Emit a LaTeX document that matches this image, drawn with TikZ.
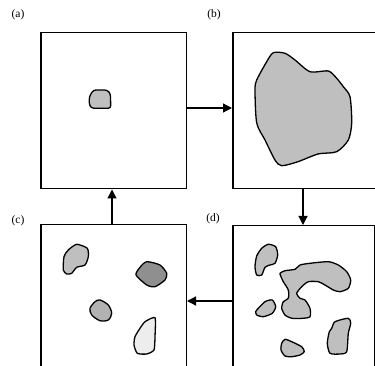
\documentclass[tikz,border=0pt]{standalone}
\usepackage{fontspec}
\setmainfont{Liberation Serif}
\usetikzlibrary{arrows.meta}
\definecolor{blobA}{gray}{0.75}
\definecolor{blobDark}{gray}{0.56}
\definecolor{blobMid}{gray}{0.70}
\definecolor{blobLight}{gray}{0.93}
\tikzset{
  panel/.style={draw, line width=1.5pt, rectangle, inner sep=0pt, anchor=north west},
  flow/.style={line width=1.2pt, -{Triangle[length=9pt,width=9pt]}},
  blob/.style={draw, line width=1.3pt, fill=blobA, line join=round},
  lab/.style={font=\fontsize{11.5}{13}\selectfont, inner sep=0pt}
}
\begin{document}
\begin{tikzpicture}[x=1pt,y=-1pt]
\useasboundingbox (0,0) rectangle (375,366);
\clip (0,0) rectangle (375,366);
% panels
\node[panel, minimum width=145.5pt, minimum height=156pt] (A) at (40,32) {};
\node[panel, minimum width=150pt, minimum height=156pt] (B) at (232,32) {};
\node[panel, minimum width=145.5pt, minimum height=145pt] (C) at (40,224) {};
\node[panel, minimum width=142pt, minimum height=145pt] (D) at (232,225) {};
% labels
\node[lab] (la) at (18,15) {(a)};
\node[lab] (lb) at (214,15) {(b)};
\node[lab] (lc) at (18,221) {(c)};
\node[lab] (ld) at (213,219) {(d)};
% connectors
\coordinate (ab1) at (A.east |- 0,108);
\coordinate (ab2) at (B.west |- 0,108);
\draw[flow] (ab1) -- (ab2);
\coordinate (bd1) at (B.south -| 303,0);
\coordinate (bd2) at (D.north -| 303,0);
\draw[flow] (bd1) -- (bd2);
\coordinate (dc1) at (D.west |- 0,301);
\coordinate (dc2) at (C.east |- 0,301);
\draw[flow] (dc1) -- (dc2);
\coordinate (ca1) at (C.north -| 112,0);
\coordinate (ca2) at (A.south -| 112,0);
\draw[flow] (ca1) -- (ca2);
% (a) seed
\draw[blob, rounded corners=2.5pt] (93.3,90) -- (107.3,90) -- (110.5,94) -- (110.7,108.3) -- (91.7,108.3) -- (89.3,105) -- (89.3,96.7) -- cycle;
% (b) large region
\draw[blob] plot[smooth cycle, tension=0.45] coordinates {
(273.3,52.7) (266.7,61.7) (256.7,80) (255,90) (256.7,123) (265,140) (275,160) (281.7,165.7)
(298,161.7) (318,154) (336.7,151.7) (348.3,140) (351.7,123) (350,96.7) (343.3,86.7)
(336.7,78.3) (328.3,71) (310,71.7) (295,60) (285,53.3)};
% (c) regions
\draw[blob] plot[smooth cycle, tension=0.4] coordinates {
(76.7,244.3) (87.3,248.3) (88.3,256.7) (85,265) (76.7,267.3) (71.7,273.3) (66.7,274) (63.3,270) (64,256.7) (68.3,250)};
\draw[blob, fill=blobDark] plot[smooth cycle, tension=0.4] coordinates {
(146.7,261.7) (160,265) (166.7,273.3) (165,280) (155,286.7) (146.7,285) (136,275) (140,267.3)};
\draw[blob, fill=blobMid] plot[smooth cycle, tension=0.5] coordinates {
(100,300) (108.3,305) (111.7,313.3) (108.3,320) (100,320.7) (91.7,315) (90,308.3) (95,301.7)};
\draw[blob, fill=blobLight] plot[smooth cycle, tension=0.35] coordinates {
(155,317.7) (155,336.7) (154,350) (146.7,354) (137.3,353.3) (134,345) (135,336.7) (140,328.3) (145,321.7)};
% (d) regions
\draw[blob] plot[smooth cycle, tension=0.4] coordinates {
(268.3,244.3) (275.7,246.7) (277.7,255) (275,263.3) (270,265) (265,267.3) (261.7,275) (256.7,275) (255,266.7) (256.7,256) (261.7,248.3)};
\draw[blob] plot[smooth cycle, tension=0.4] coordinates {
(280,273.3) (285,270.7) (295,269.3) (300,265) (310,263.3) (328.3,261.7) (338.3,265) (346.7,271.7)
(350.7,280) (348.3,288.3) (340,291.7) (333.3,290) (325,285) (318.3,281.7) (308.3,281.7)
(301.7,286.7) (296.7,293.3) (300,298.3) (305,300) (310,308.3) (310,316.7) (303.3,318.3)
(291.7,318.3) (285,315) (281.7,308.3) (283.3,301.7) (288.3,298.3) (288.3,290) (283.3,281.7) (281,276.7)};
\draw[blob] plot[smooth cycle, tension=0.4] coordinates {
(256.7,310) (265,301.7) (272.3,300) (275.7,306.7) (272.3,313.3) (263.3,316.7) (256.7,315) (255.7,311.7)};
\draw[blob] plot[smooth cycle, tension=0.4] coordinates {
(285,339.3) (291.7,341.7) (301.7,346.7) (304.3,351.7) (300,355) (291.7,356.7) (285,356) (281,350) (281.7,343.3)};
\draw[blob] plot[smooth cycle, tension=0.4] coordinates {
(335,321.7) (348.3,318.3) (350.7,323.3) (348.3,333.3) (346.7,351.7) (340,354) (330,353.3) (327.3,343.3) (329.3,331.7) (331.7,328.3)};
\end{tikzpicture}
\end{document}
